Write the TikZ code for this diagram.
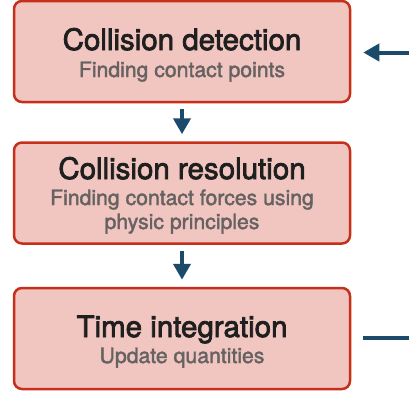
\documentclass[tikz,border=0pt]{standalone}
\usepackage{fontspec}
\setmainfont{TeX Gyre Heros}
\newfontfamily\titlefam[FakeBold=2.6]{TeX Gyre Heros}
\newfontfamily\subfam[FakeBold=1.8]{TeX Gyre Heros}
\usetikzlibrary{arrows.meta}
\definecolor{boxfill}{HTML}{F1C5C0}
\definecolor{boxline}{HTML}{C62F1A}
\definecolor{arrowc}{HTML}{1B4A6B}
\definecolor{subc}{HTML}{666262}
\tikzset{
  stagebox/.style={draw=boxline, fill=boxfill, line width=2.5pt, rounded corners=8pt,
    minimum width=336pt, minimum height=101pt, inner sep=0pt},
  titletext/.style={anchor=base, inner sep=0pt, text=black!88, font=\titlefam\fontsize{29.5}{32}\selectfont},
  subtext/.style={anchor=base, inner sep=0pt, text=subc, font=\subfam\fontsize{21.2}{24}\selectfont},
  flow/.style={draw=arrowc, line width=4pt, -{Triangle[width=17pt,length=16pt]}},
  plainflow/.style={draw=arrowc, line width=4pt}
}
\begin{document}
\begin{tikzpicture}[x=1pt,y=-1pt]
\useasboundingbox (0,0) rectangle (409,394);
\node[stagebox] (det) at (182,51.5) {};
\node[stagebox] (res) at (182,193) {};
\node[stagebox] (int) at (182,338.5) {};
\node[titletext] (detT) at (182,50) {Collision detection};
\node[subtext] (detS) at (182,77) {Finding contact points};
\node[titletext] (resT) at (182,179) {Collision resolution};
\node[subtext] (resS1) at (182,205) {Finding contact forces using};
\node[subtext] (resS2) at (182,229) {physic principles};
\node[titletext] (intT) at (182,337) {Time integration};
\node[subtext] (intS) at (182,363) {Update quantities};
\coordinate (inR) at (409,52.5);
\coordinate (outR) at (409,337.5);
\draw[flow, shorten <=6pt, shorten >=7pt] (det.south) -- (res.north);
\draw[flow, shorten <=6pt, shorten >=7pt] (res.south) -- (int.north);
\draw[flow, shorten >=12pt] (inR) -- (inR -| det.east);
\draw[plainflow, shorten <=12pt] (outR -| int.east) -- (outR);
\end{tikzpicture}
\end{document}
